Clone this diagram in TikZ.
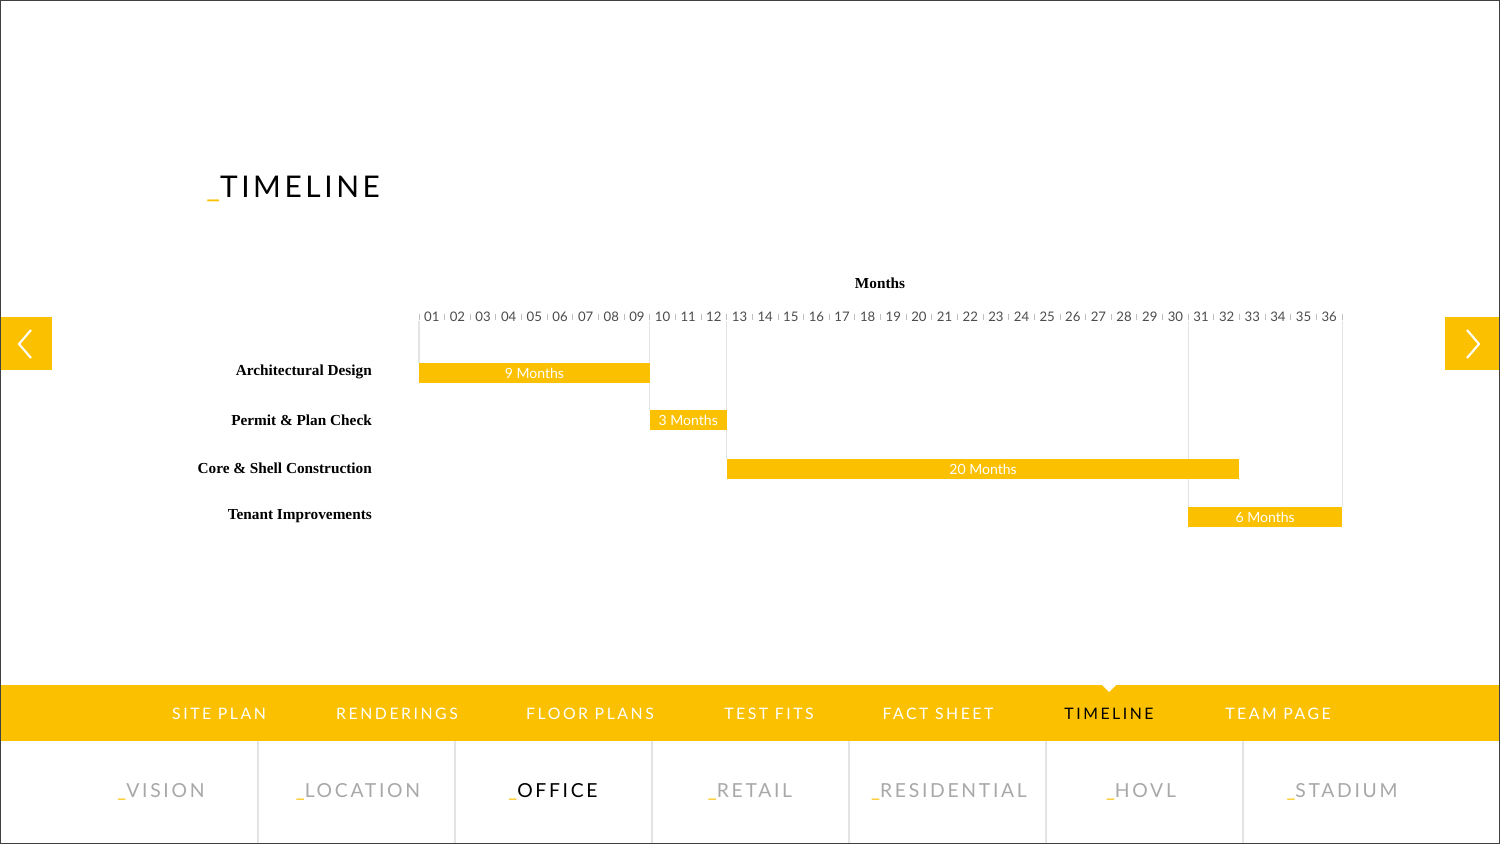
\documentclass[tikz,border=0pt]{standalone}
\usepackage{fontspec}
\setmainfont{Lato}
\newfontfamily\serifbf{Liberation Serif}
\usetikzlibrary{positioning}
\definecolor{gold}{HTML}{FBC000}
\definecolor{txtgray}{HTML}{A8A8A8}
\definecolor{gridgray}{HTML}{E4E4E4}
\tikzset{
  bar/.style={fill=gold, draw=none},
  barlabel/.style={text=white, font=\fontsize{8}{10}\selectfont},
  task/.style={anchor=east, font=\serifbf\bfseries\fontsize{8.7}{10}\selectfont},
  month/.style={text=black!70, font=\fontsize{7.5}{9}\selectfont},
  navtop/.style={text=white, font=\addfontfeature{LetterSpace=16}\fontsize{9}{10}\selectfont},
  navbot/.style={text=txtgray, font=\addfontfeature{LetterSpace=14}\fontsize{11}{12}\selectfont},
}
\newcommand{\dash}{\textcolor{gold}{\_}}
\begin{document}
\begin{tikzpicture}[x=0.02cm, y=-0.02cm]
\useasboundingbox (0,0) rectangle (1500,844);
\fill[white] (0,0) rectangle (1500,844);
% title
\node[anchor=west, inner sep=0pt, font=\addfontfeature{LetterSpace=12}\fontsize{17}{20}\selectfont] (title) at (206,189) {\dash TIMELINE};
\node[font=\serifbf\bfseries\fontsize{8.7}{10}\selectfont] (months) at (880,283) {Months};
% month scale
\foreach \m in {1,...,36} {
  \pgfmathsetmacro{\xc}{419+25.64*(\m-0.5)}
  \node[month] (m\m) at (\xc,317) {\ifnum\m<10 0\fi\m};
}
\foreach \m in {0,...,36} {
  \draw[black!25, line width=0.5pt] ({419+25.64*\m},314) -- ({419+25.64*\m},320);
}
% grid lines
\foreach \m/\yb in {0/363, 9/410, 12/459, 30/507, 36/507} {
  \draw[gridgray, line width=0.6pt] ({419+25.64*\m},321) -- ({419+25.64*\m},\yb);
}
% tasks
\node[task] (t1) at (378,372) {Architectural Design};
\node[task] (t2) at (378,420) {Permit \& Plan Check};
\node[task] (t3) at (378,468) {Core \& Shell Construction};
\node[task] (t4) at (378,516) {Tenant Improvements};
\foreach \a/\b/\y/\lab [count=\i] in {0/9/363/9 Months, 9/12/410/3 Months, 12/32/459/20 Months, 30/36/507/6 Months} {
  \fill[bar] ({419+25.64*\a},\y) rectangle ({419+25.64*\b},\y+20);
  \node[barlabel] (b\i) at ({419+25.64*(\a+\b)/2},\y+10.5) {\lab};
}
% side arrows
\fill[gold] (0,317) rectangle (52,370);
\fill[gold] (1445,317) rectangle (1500,370);
\draw[white, line width=1.2pt] (31,330) -- (19,344) -- (31,358);
\draw[white, line width=1.2pt] (1467,330) -- (1479,344) -- (1467,358);
% top nav band
\fill[gold] (0,685) rectangle (1500,741);
\fill[white] (1102,685) -- (1116,685) -- (1109,692) -- cycle;
\foreach \x/\lab [count=\i] in {219/SITE PLAN, 397/RENDERINGS, 590/FLOOR PLANS, 769/TEST FITS, 938/FACT SHEET, 1278/TEAM PAGE} {
  \node[navtop] (n\i) at (\x,714) {\lab};
}
\node[navtop, text=black] (ntl) at (1109,714) {TIMELINE};
% bottom nav
\foreach \x in {258,455,652,849,1046,1243} {
  \draw[gridgray, line width=0.8pt] (\x,741) -- (\x,844);
}
\foreach \x/\lab [count=\i] in {161/VISION, 358/LOCATION, 750/RETAIL, 949/RESIDENTIAL, 1141/HOVL, 1342/STADIUM} {
  \node[navbot] (s\i) at (\x,792) {\dash\lab};
}
\node[navbot, text=black] (soff) at (553,792) {\dash OFFICE};
\draw[black!75, line width=1.5pt] (0,0) rectangle (1500,844);
\end{tikzpicture}
\end{document}
